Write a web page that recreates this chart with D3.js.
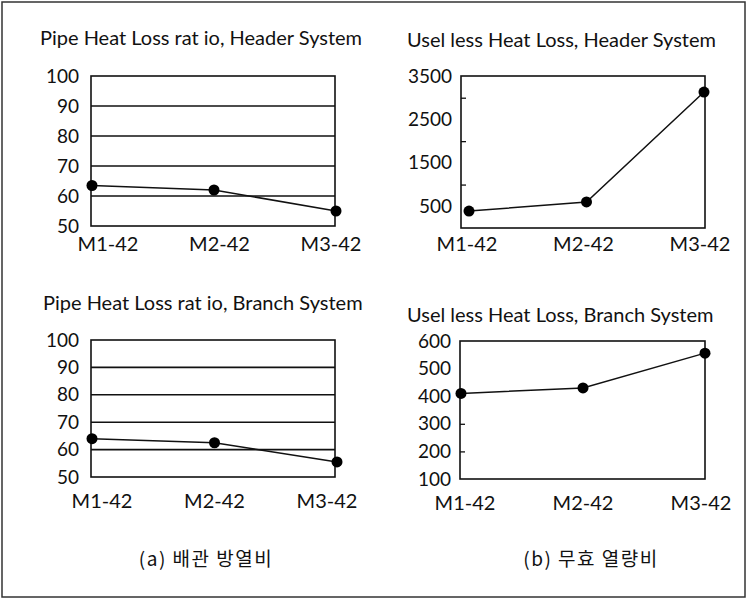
<!DOCTYPE html>
<html>
<head>
<meta charset="utf-8">
<script src="https://cdn.jsdelivr.net/npm/d3@7"></script>
<style>
  body { margin: 0; background: #fff; }
  svg text { font-family: Lato, "Open Sans", sans-serif; fill: #111; }
  .cap { font-family: "Noto Sans CJK KR", sans-serif; }
</style>
</head>
<body>
<svg id="chart" width="748" height="604"></svg>
<script>
// heat loss comparison, 4 small panels

var categories = ["M1-42", "M2-42", "M3-42"];

var headerRatio = [63.5, 62, 55];
var branchRatio = [64, 62.5, 55.5];
var headerUseless = [390, 600, 3130];
var branchUseless = [410, 430, 556];

var ratioTicks = [50, 60, 70, 80, 90, 100];
var ratioGrid = [60, 70, 80, 90];
var headerUselessTicks = [500, 1500, 2500, 3500];
var headerUselessMinor = [1000, 2000, 3000];
var branchUselessTicks = [100, 200, 300, 400, 500, 600];
var branchUselessMinor = [200, 300];

var titles = ["Pipe Heat Loss rat io, Header System",
              "Usel less Heat Loss, Header System",
              "Pipe Heat Loss rat io, Branch System",
              "Usel less Heat Loss, Branch System"];
var captions = ["(a) 배관 방열비", "(b) 무효 열량비"];

var svg = d3.select("#chart");

svg.append("rect")
    .attr("x", 2).attr("y", 2)
    .attr("width", 743).attr("height", 595)
    .attr("fill", "none")
    .attr("stroke", "#333")
    .attr("stroke-width", 1.5);

function panel(p) {
    var g = svg.append("g");

    var y = d3.scaleLinear().domain(p.domain).range([p.bottom, p.top]);
    var x = d3.scalePoint().domain(categories).range(p.pts);
    var xl = d3.scalePoint().domain(categories).range(p.lbl);

    g.append("text")
        .attr("x", p.titleX).attr("y", p.titleY)
        .style("font-size", "20px")
        .text(p.title);

    // grid lines
    g.selectAll(".grid")
        .data(p.grid || [])
        .enter().append("line")
        .attr("x1", p.left).attr("x2", p.right)
        .attr("y1", function(d) { return y(d); })
        .attr("y2", function(d) { return y(d); })
        .attr("stroke", "#111")
        .attr("stroke-width", 1.6);

    // inner minor ticks
    var minor = g.append("g")
        .attr("transform", "translate(" + p.left + ",0)")
        .call(d3.axisRight(y).tickValues(p.minor || []).tickSize(5).tickFormat(""));
    minor.select(".domain").remove();
    minor.selectAll("line").attr("stroke", "#111").attr("stroke-width", 1.3);

    // y labels
    var ax = g.append("g")
        .attr("transform", "translate(" + p.left + ",0)")
        .call(d3.axisLeft(y).tickValues(p.ticks).tickSize(0).tickPadding(p.pad)
              .tickFormat(d3.format("d")));
    ax.select(".domain").remove();
    ax.selectAll("text")
        .style("font-size", "19px")
        .style("font-family", "Lato, sans-serif")
        .attr("fill", "#111");

    g.append("rect")
        .attr("x", p.left).attr("y", p.top)
        .attr("width", p.right - p.left).attr("height", p.bottom - p.top)
        .attr("fill", "none")
        .attr("stroke", "#111")
        .attr("stroke-width", 1.6);

    var line = d3.line()
        .x(function(d, i) { return x(categories[i]); })
        .y(function(d) { return y(d); });

    g.append("path")
        .datum(p.values)
        .attr("d", line)
        .attr("fill", "none")
        .attr("stroke", "#111")
        .attr("stroke-width", 1.5);

    g.selectAll(".dot")
        .data(p.values)
        .enter().append("circle")
        .attr("cx", function(d, i) { return x(categories[i]); })
        .attr("cy", function(d) { return y(d); })
        .attr("r", 5.5)
        .attr("fill", "#000");

    g.selectAll(".xl")
        .data(categories)
        .enter().append("text")
        .attr("x", function(d) { return xl(d); })
        .attr("y", p.lblY)
        .attr("text-anchor", "middle")
        .style("font-size", "20px")
        .text(function(d) { return d; });
}

panel({ title: titles[0], titleX: 40, titleY: 45,
        left: 91, right: 335, top: 76, bottom: 226,
        domain: [50, 100], ticks: ratioTicks, grid: ratioGrid, pad: 12,
        pts: [92, 336], lbl: [108, 331], lblY: 251,
        values: headerRatio });

panel({ title: titles[1], titleX: 407, titleY: 47,
        left: 461, right: 705, top: 76, bottom: 228,
        domain: [0, 3500], ticks: headerUselessTicks, minor: headerUselessMinor, pad: 9,
        pts: [469, 704], lbl: [467, 700], lblY: 251,
        values: headerUseless });

panel({ title: titles[2], titleX: 43, titleY: 310,
        left: 91, right: 335, top: 340, bottom: 477,
        domain: [50, 100], ticks: ratioTicks, grid: ratioGrid, pad: 12,
        pts: [92, 337], lbl: [102, 327], lblY: 508,
        values: branchRatio });

panel({ title: titles[3], titleX: 407, titleY: 322,
        left: 460, right: 705, top: 341, bottom: 479,
        domain: [100, 600], ticks: branchUselessTicks, minor: branchUselessMinor, pad: 9,
        pts: [461, 705], lbl: [465, 701], lblY: 510,
        values: branchUseless });

svg.selectAll(".cap")
    .data(captions)
    .enter().append("text")
    .attr("class", "cap")
    .attr("x", function(d, i) { return i === 0 ? 206 : 591; })
    .attr("y", 566)
    .attr("text-anchor", "middle")
    .style("font-size", "19px")
    .style("letter-spacing", "1.5px")
    .text(function(d) { return d; });
</script>
</body>
</html>
